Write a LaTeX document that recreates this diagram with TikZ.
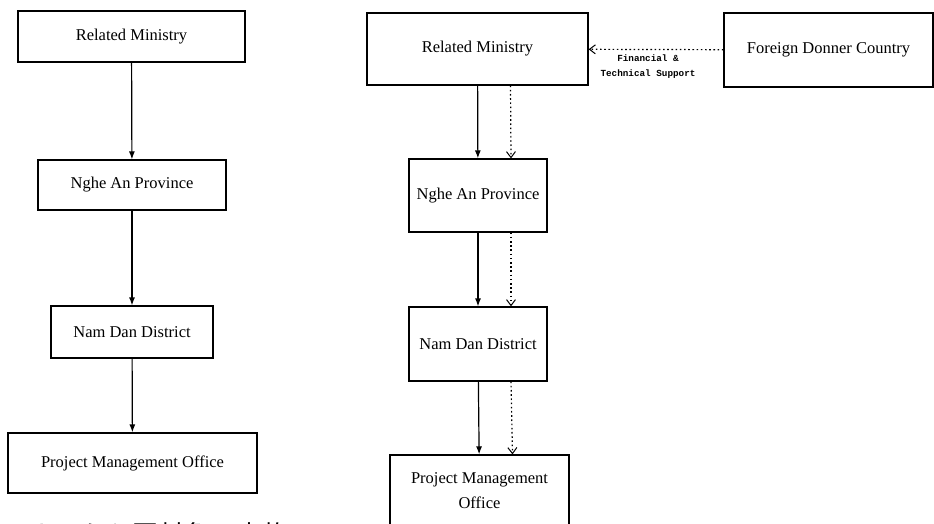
\documentclass[tikz,border=0pt]{standalone}
\usepackage{fontspec}
\setmainfont{Liberation Serif}
\newfontfamily\supportfont{Liberation Mono}
\newfontfamily\jpfont{Noto Sans CJK JP}
\usetikzlibrary{arrows.meta}

\begin{document}
\begin{tikzpicture}[x=1pt,y=-1pt,
    orgbox/.style={draw,line width=1.2pt,inner sep=0pt,align=center,
      font=\fontsize{16.5}{25}\selectfont},
    aid/.style={line width=1.2pt,dash pattern=on 1.6pt off 2.6pt,
      -{Straight Barb[length=6pt,width=9pt,line width=1pt]}},
    descr/.style={font=\supportfont\bfseries\fontsize{9.3}{15.5}\selectfont,align=center}]
    \useasboundingbox (0,0) rectangle (934,524);
    \begin{scope}
    \clip (0,0) rectangle (934,524);

    % without foreign aid
    \node[orgbox,minimum width=227pt,minimum height=51pt] (ministryA) at (131.5,36.5) {Related Ministry};
    \node[orgbox,minimum width=188pt,minimum height=50pt] (provinceA) at (132,185) {Nghe An Province};
    \node[orgbox,minimum width=162pt,minimum height=52pt] (districtA) at (132,332) {Nam Dan District};
    \node[orgbox,minimum width=249pt,minimum height=60pt] (officeA) at (132.5,463) {Project Management Office};

    % with foreign aid
    \node[orgbox,minimum width=221pt,minimum height=72pt] (ministryB) at (477.5,49) {Related Ministry};
    \node[orgbox,minimum width=209pt,minimum height=74pt] (donor) at (828.5,50) {Foreign Donner Country};
    \node[orgbox,minimum width=138pt,minimum height=73pt] (provinceB) at (478,195.5) {Nghe An Province};
    \node[orgbox,minimum width=138pt,minimum height=74pt] (districtB) at (478,344) {Nam Dan District};
    \node[orgbox,minimum width=179pt,minimum height=72pt] (officeB) at (479.5,491) {Project Management\\Office};

    \node[font=\jpfont\fontsize{26}{26}\selectfont,anchor=base west,inner sep=0pt] (note) at (2,544) {ドナーから国対象で実施};

    \path[->,line width=1.2pt,>={Latex[length=8pt,width=6pt]}]
    (ministryA) edge (provinceA)
    (provinceA) edge (districtA)
    (districtA) edge (officeA)
    (ministryB) edge (provinceB)
    (provinceB) edge (districtB)
    (districtB) edge (officeB);

    \path[aid]
    ([xshift=33pt]ministryB.south) edge ([xshift=33pt]provinceB.north)
    ([xshift=33pt]provinceB.south) edge ([xshift=33pt]districtB.north)
    ([xshift=33pt]districtB.south) edge ([xshift=33pt]officeB.north)
    (donor) edge node[descr,below,xshift=-8pt,yshift=-1pt] {Financial \&\\Technical Support} (ministryB);
    \end{scope}
  \end{tikzpicture}
\end{document}
